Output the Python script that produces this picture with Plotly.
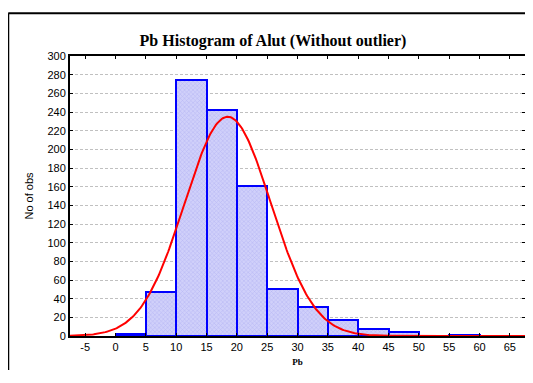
import numpy as np
import plotly.graph_objects as go

# Histogram data (bin start, counts)
bin_starts = [0, 5, 10, 15, 20, 25, 30, 35, 40, 45, 50, 55, 60]
counts = [2, 47, 274, 242, 161, 50, 31, 17, 7, 4, 0, 1, 0]
bin_width = 5
# Fitted normal parameters
fit_mean = 18.5
fit_sd = 7.1
x_ticks = list(range(-5, 70, 5))
y_ticks = list(range(0, 320, 20))

n_total = sum(counts)
xs = np.linspace(-7.5, 67.5, 400)
ys = n_total * bin_width / (fit_sd * np.sqrt(2 * np.pi)) * np.exp(-0.5 * ((xs - fit_mean) / fit_sd) ** 2)

fig = go.Figure()
fig.add_trace(go.Bar(
    x=[b + bin_width / 2 for b in bin_starts], y=counts, width=bin_width,
    marker=dict(color="#c6c6f6", line=dict(color="#0000ff", width=2),
                pattern=dict(shape="x", fgcolor="#9a9aee", bgcolor="#d0d0fa", size=3, solidity=0.3)),
    showlegend=False,
))
fig.add_trace(go.Scatter(x=xs, y=ys, mode="lines", line=dict(color="#ff0000", width=2), showlegend=False))

axis_font = dict(family="Liberation Sans, Arial", size=11, color="#000")
# page has an 8px body margin, so the figure is smaller and offset accordingly (no scrollbars)
W, H = 523, 362
fig.update_layout(
    width=W, height=H,
    margin=dict(l=62, r=4, t=48, b=32),
    paper_bgcolor="white", plot_bgcolor="white",
    bargap=0,
    title=dict(text="<b>Pb Histogram of Alut (Without outlier)</b>", x=265 / W, xanchor="center",
               y=1 - 32 / H, yanchor="middle",
               font=dict(family="Liberation Serif, Times New Roman", size=16, color="#000")),
    xaxis=dict(range=[-7.5, 67.5], tickvals=x_ticks, ticktext=[str(v) for v in x_ticks],
               tickfont=axis_font, showgrid=False, zeroline=False,
               showline=True, linecolor="#000", linewidth=2, mirror="ticks",
               ticks="inside", ticklen=3, tickcolor="#000",
               title=dict(text="<b>Pb</b>", font=dict(family="Liberation Serif, Times New Roman", size=9, color="#000"),
                          standoff=6)),
    yaxis=dict(range=[0, 300], tickvals=y_ticks, tickfont=axis_font,
               showgrid=True, gridcolor="#c0c0c0", griddash="3px,2px", gridwidth=1, zeroline=False,
               showline=True, linecolor="#000", linewidth=2, mirror="ticks",
               ticks="inside", ticklen=3, tickcolor="#000",
               title=dict(text="No of obs", font=dict(family="Liberation Sans, Arial", size=11, color="#000"),
                          standoff=12)),
    shapes=[
        dict(type="line", xref="paper", yref="paper", x0=-0.1357, x1=1.05, y0=1.1525, y1=1.1525,
             line=dict(color="#000", width=2)),
        dict(type="line", xref="paper", yref="paper", x0=-0.1357, x1=-0.1357, y0=-0.2, y1=1.1525,
             line=dict(color="#000", width=2)),
    ],
)
fig.write_html("out.html")
